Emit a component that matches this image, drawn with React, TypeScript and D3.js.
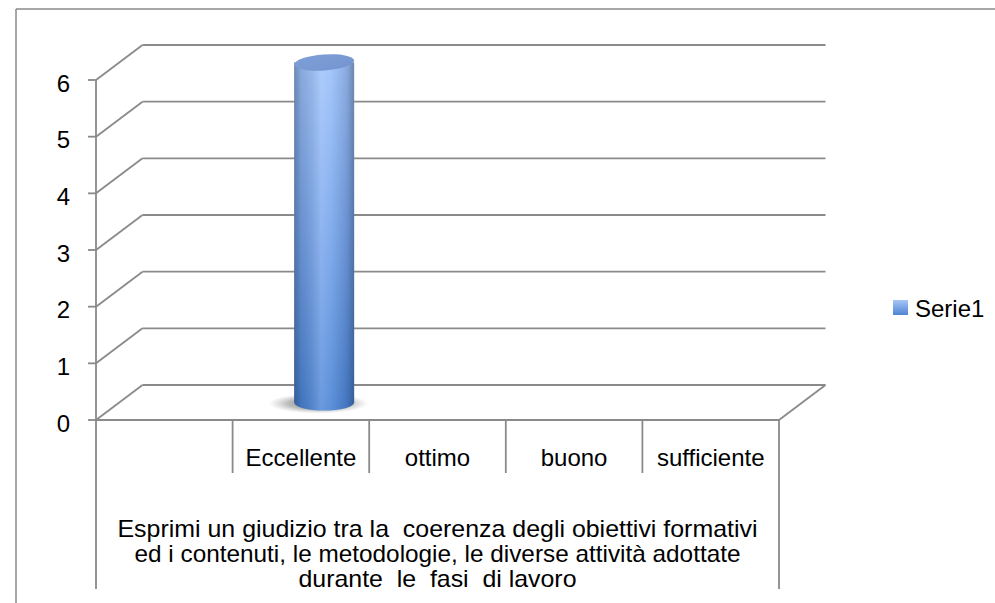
import React from "react";
import * as d3 from "d3";

const categories = ["", "Eccellente", "ottimo", "buono", "sufficiente"];
const serie1 = [0, 6, 0, 0, 0];
const yTicks = [0, 1, 2, 3, 4, 5, 6];
const groupLabelLines = [
  "Esprimi un giudizio tra la  coerenza degli obiettivi formativi",
  "ed i contenuti, le metodologie, le diverse attività adottate",
  "durante  le  fasi  di lavoro",
];
const groupLabelWidths = [640, 606, 278];
const seriesName = "Serie1";

const W = 995;
const H = 603;
const FONT = "'Liberation Sans', Arial, sans-serif";

export default function App() {
  const x0 = 96, x1 = 779;
  const y0 = 420, y1 = 80;
  const dx = 46.5, dy = -35;
  const x = d3.scaleBand<string>().domain(categories).range([x0, x1]).padding(0);
  const y = d3.scaleLinear().domain([0, 6]).range([y0, y1]);
  const grid = "#8a8a8a";
  const gw = 1.8;
  const bw = x.bandwidth();
  const rowBottom = 473;
  const tableBottom = 589;

  return (
    <svg width={W} height={H} style={{ position: "absolute", left: 0, top: 0, background: "#fff" }} fontFamily={FONT}>
      <defs>
        <linearGradient id="bodyV" x1="0" y1="0" x2="0" y2="1">
          <stop offset="0" stopColor="#9cc1fb" />
          <stop offset="0.5" stopColor="#76a4ec" />
          <stop offset="1" stopColor="#4a84d6" />
        </linearGradient>
        <linearGradient id="bodyH" x1="0" y1="0" x2="1" y2="0">
          <stop offset="0" stopColor="#000" stopOpacity="0.3" />
          <stop offset="0.12" stopColor="#000" stopOpacity="0.12" />
          <stop offset="0.45" stopColor="#fff" stopOpacity="0.18" />
          <stop offset="0.6" stopColor="#fff" stopOpacity="0.1" />
          <stop offset="0.88" stopColor="#000" stopOpacity="0.12" />
          <stop offset="1" stopColor="#000" stopOpacity="0.3" />
        </linearGradient>
        <linearGradient id="topG" x1="0" y1="0" x2="1" y2="1">
          <stop offset="0" stopColor="#7e9fd6" />
          <stop offset="1" stopColor="#7394cf" />
        </linearGradient>
        <linearGradient id="legG" x1="0" y1="0" x2="0" y2="1">
          <stop offset="0" stopColor="#a7c6f8" />
          <stop offset="1" stopColor="#4f84d2" />
        </linearGradient>
        <radialGradient id="shadowG" cx="0.5" cy="0.5" r="0.5">
          <stop offset="0" stopColor="#555" stopOpacity="0.8" />
          <stop offset="0.6" stopColor="#777" stopOpacity="0.5" />
          <stop offset="1" stopColor="#999" stopOpacity="0" />
        </radialGradient>
      </defs>

      {/* outer chart border */}
      <line x1={16} y1={9} x2={W} y2={9} stroke={grid} strokeWidth={1.5} />
      <line x1={16} y1={9} x2={16} y2={H} stroke={grid} strokeWidth={1.5} />

      {/* walls: side diagonals and back gridlines */}
      {yTicks.map((t) => (
        <g key={t}>
          <line x1={x0} y1={y(t)} x2={x0 + dx} y2={y(t) + dy} stroke={grid} strokeWidth={gw} />
          <line x1={x0 + dx} y1={y(t) + dy} x2={x1 + dx} y2={y(t) + dy} stroke={grid} strokeWidth={gw} />
          <line x1={x0 - 8} y1={y(t)} x2={x0} y2={y(t)} stroke={grid} strokeWidth={gw} />
          <text x={70} y={y(t) + 3} textAnchor="end" dominantBaseline="central" fontSize={24} fill="#000">
            {t}
          </text>
        </g>
      ))}
      {/* floor */}
      <line x1={x1 + dx} y1={y(0) + dy} x2={x1} y2={y(0)} stroke={grid} strokeWidth={gw} />
      <line x1={x0} y1={y(0)} x2={x1} y2={y(0)} stroke={grid} strokeWidth={gw} />
      <line x1={x0} y1={y(6)} x2={x0} y2={y(0)} stroke={grid} strokeWidth={gw} />

      {/* cylinders */}
      {categories.map((c, i) => {
        const v = serie1[i];
        if (!v) return null;
        const cx = (x(c) as number) + bw / 2 + dx / 2;
        const rx = 30;
        const ry = 8;
        const yb = y(0) + dy / 2;
        const yt = y(v) + dy / 2;
        const body = `M${cx - rx},${yt} L${cx - rx},${yb} A${rx},${ry} 0 0 0 ${cx + rx},${yb} L${cx + rx},${yt} Z`;
        return (
          <g key={c}>
            <ellipse cx={cx - 6} cy={yb + 1} rx={50} ry={10} fill="url(#shadowG)" />
            <path d={body} fill="url(#bodyV)" />
            <path d={body} fill="url(#bodyH)" />
            <ellipse cx={cx} cy={yt} rx={rx} ry={ry} fill="url(#topG)" transform={`rotate(-4 ${cx} ${yt})`} />
          </g>
        );
      })}

      {/* category table */}
      {categories.map((c, i) =>
        i === 0 ? null : (
          <line key={"d" + c} x1={x(c) as number} y1={y0} x2={x(c) as number} y2={rowBottom} stroke={grid} strokeWidth={gw} />
        )
      )}
      <line x1={x0} y1={y0} x2={x0} y2={tableBottom} stroke={grid} strokeWidth={gw} />
      <line x1={x1} y1={y0} x2={x1} y2={tableBottom} stroke={grid} strokeWidth={gw} />
      {categories.map((c) => (
        <text key={"t" + c} x={(x(c) as number) + bw / 2} y={457} textAnchor="middle" dominantBaseline="central" fontSize={24} fill="#000">
          {c}
        </text>
      ))}
      {groupLabelLines.map((l, i) => (
        <text
          key={"g" + i}
          x={(x0 + x1) / 2}
          y={528 + i * 25}
          textAnchor="middle"
          dominantBaseline="central"
          fontSize={24}
          fill="#000"
          textLength={groupLabelWidths[i]}
          lengthAdjust="spacingAndGlyphs"
          style={{ whiteSpace: "pre" }}
        >
          {l}
        </text>
      ))}

      {/* legend */}
      <rect x={893} y={300} width={15} height={15} fill="url(#legG)" />
      <text x={915} y={308} dominantBaseline="central" fontSize={24} fill="#000">
        {seriesName}
      </text>
    </svg>
  );
}
